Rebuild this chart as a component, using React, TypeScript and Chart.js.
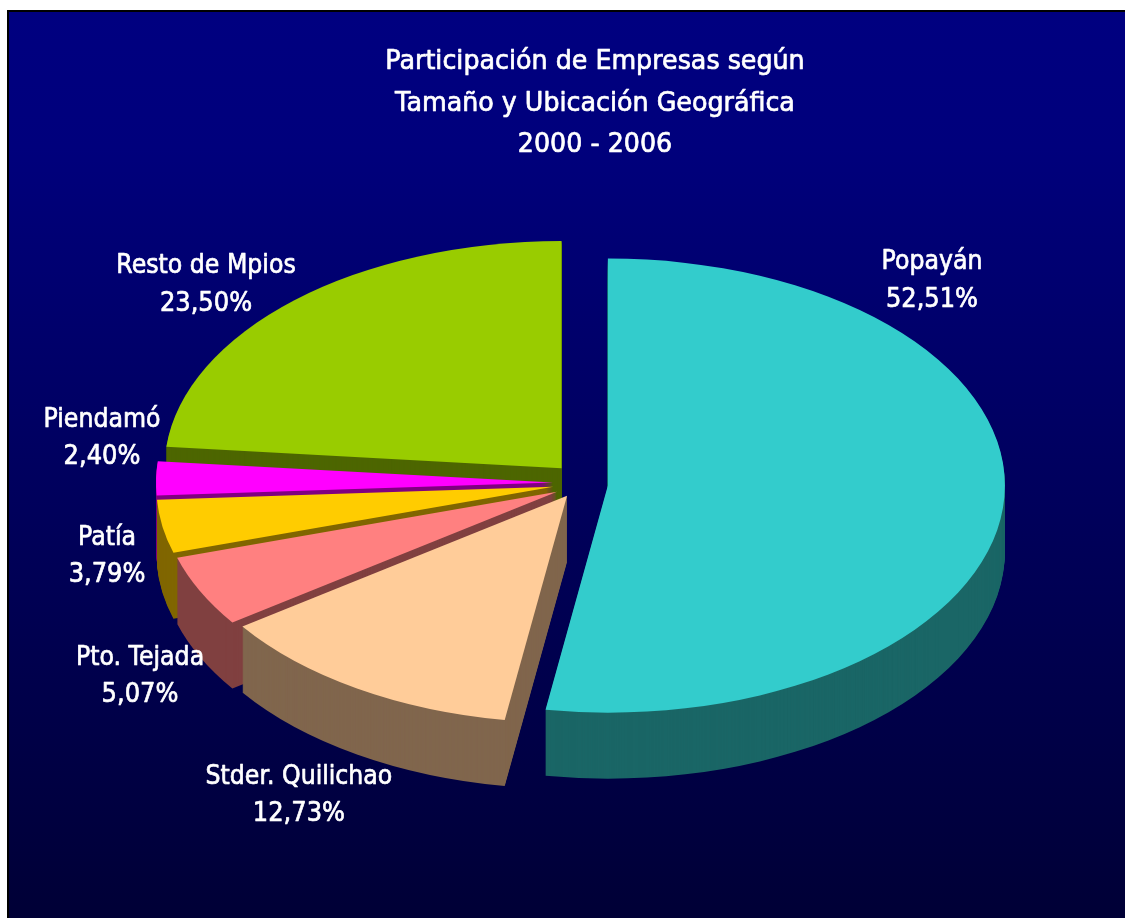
import React, { useEffect, useRef } from 'react';
import { Chart, registerables } from 'chart.js';

Chart.register(...registerables);

// ---- data ----
const TITLE_LINES = ['Participación de Empresas según', 'Tamaño y Ubicación Geográfica', '2000 - 2006'];
const categories = ['Popayán', 'Stder. Quilichao', 'Pto. Tejada', 'Patía', 'Piendamó', 'Resto de Mpios'];
const shares = [52.51, 12.73, 5.07, 3.79, 2.4, 23.5];

// ---- styles ----
const topColors = ['#33CCCC', '#FFCC99', '#FF8080', '#FFCC00', '#FF00FF', '#99CC00'];
const sideColors = ['#1A6666', '#80664D', '#804040', '#806600', '#800080', '#4D6600'];
const explode = [33, 15, 20, 22, 22, 20];
const labelAngleShift = [-52.7, -4.66, -11.36, -4.69, 9.16, -5.3];
const labelRadius = [1.2243, 1.473, 1.3217, 1.1625, 1.1544, 1.2127];

const W = 1125;
const H = 918;
const RADIUS = 397;
const SY = 0.572;
const DEPTH = 66;
const FONT = '"DejaVu Sans", "Noto Sans", sans-serif';

const fmtPct = (v: number) => v.toFixed(2).replace('.', ',') + '%';

function drawCondensed(ctx: CanvasRenderingContext2D, text: string, x: number, y: number, sx: number) {
  ctx.save();
  ctx.translate(x, y);
  ctx.scale(sx, 1);
  ctx.fillText(text, 0, 0);
  ctx.strokeText(text, 0, 0);
  ctx.restore();
}

const pie3d = {
  id: 'pie3d',
  beforeDraw(chart: any) {
    const ctx: CanvasRenderingContext2D = chart.ctx;
    ctx.save();
    ctx.fillStyle = '#FFFFFF';
    ctx.fillRect(0, 0, W, H);
    ctx.fillStyle = '#000000';
    ctx.fillRect(7, 10, W - 7, H - 10);
    const g = ctx.createLinearGradient(0, 12, 0, H);
    g.addColorStop(0, '#000080');
    g.addColorStop(0.15, '#00007C');
    g.addColorStop(1, '#000036');
    ctx.fillStyle = g;
    ctx.fillRect(9, 12, W - 9, H - 12);
    ctx.restore();
  },
  beforeDatasetsDraw(chart: any) {
    const ctx: CanvasRenderingContext2D = chart.ctx;
    const meta = chart.getDatasetMeta(0);
    const geo = meta.data.map((arc: any, i: number) => {
      const mid = (arc.startAngle + arc.endAngle) / 2;
      const off = arc.options.offset || 0;
      return {
        cx: arc.x + Math.cos(mid) * off,
        cy: arc.y + Math.sin(mid) * off,
        r: arc.outerRadius,
        start: arc.startAngle,
        end: arc.endAngle,
        mid,
        top: arc.options.backgroundColor,
        side: sideColors[i],
      };
    });
    const order = geo
      .map((_: any, i: number) => i)
      .sort((a: number, b: number) => Math.sin(geo[a].mid) - Math.sin(geo[b].mid));
    const path = (g: any, dy: number) => {
      ctx.beginPath();
      ctx.moveTo(g.cx, g.cy + dy);
      ctx.ellipse(g.cx, g.cy + dy, g.r, g.r * SY, 0, g.start, g.end);
      ctx.closePath();
    };
    ctx.save();
    for (const i of order) {
      const g = geo[i];
      ctx.fillStyle = g.side;
      for (let k = DEPTH; k >= 1; k--) {
        path(g, k);
        ctx.fill();
      }
      ctx.fillStyle = g.top;
      path(g, 0);
      ctx.fill();
    }
    ctx.restore();
    chart.$geo = geo;
    return false;
  },
  afterDraw(chart: any) {
    const ctx: CanvasRenderingContext2D = chart.ctx;
    const geo = chart.$geo;
    ctx.save();
    ctx.fillStyle = '#FFFFFF';
    ctx.strokeStyle = '#FFFFFF';
    ctx.lineWidth = 0.7;
    ctx.lineJoin = 'round';
    ctx.textAlign = 'center';
    ctx.textBaseline = 'alphabetic';
    ctx.font = `26px ${FONT}`;
    const titleBase = [69, 111, 152];
    TITLE_LINES.forEach((t, i) => drawCondensed(ctx, t, 595, titleBase[i], 0.975));
    if (geo) {
      geo.forEach((g: any, i: number) => {
        const a = g.mid + (labelAngleShift[i] * Math.PI) / 180;
        const f = labelRadius[i];
        const lx = g.cx + Math.cos(a) * g.r * f;
        const ly = g.cy + Math.sin(a) * g.r * SY * f;
        drawCondensed(ctx, categories[i], lx, ly - 9.25, 0.91);
        drawCondensed(ctx, fmtPct(shares[i]), lx, ly + 28.25, 0.93);
      });
    }
    ctx.restore();
  },
};

export default function App() {
  const ref = useRef<HTMLCanvasElement | null>(null);
  useEffect(() => {
    if (!ref.current) return;
    const chart = new Chart(ref.current, {
      type: 'pie',
      data: {
        labels: categories,
        datasets: [
          {
            data: shares,
            backgroundColor: topColors,
            borderWidth: 0,
            offset: explode,
          } as any,
        ],
      },
      options: {
        responsive: false,
        animation: false,
        devicePixelRatio: 1,
        events: [],
        radius: RADIUS,
        rotation: 0,
        layout: { padding: { left: 25, top: 48, right: 0, bottom: 0 } },
        plugins: {
          legend: { display: false },
          title: { display: false },
          tooltip: { enabled: false },
        },
      } as any,
      plugins: [pie3d as any],
    });
    return () => chart.destroy();
  }, []);
  return (
    <div style={{ position: 'fixed', left: 0, top: 0, width: W, height: H, overflow: 'hidden' }}>
      <canvas ref={ref} width={W} height={H} style={{ display: 'block', width: W, height: H }} />
    </div>
  );
}
